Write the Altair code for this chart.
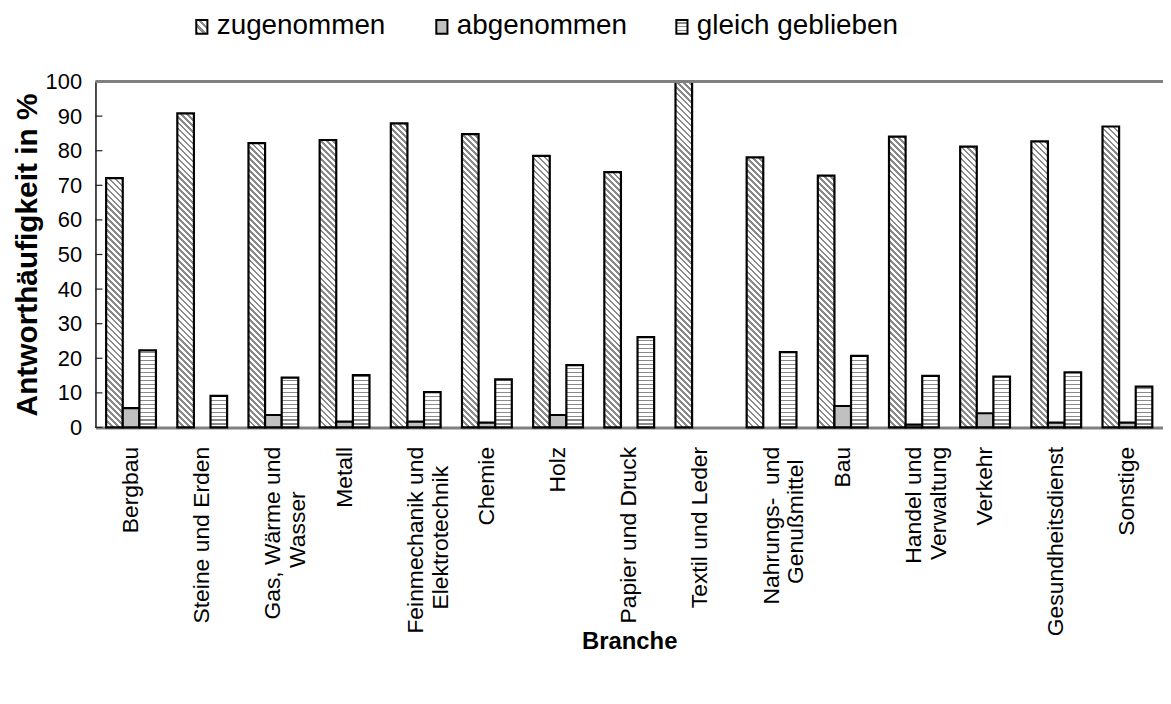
import altair as alt
import pandas as pd

# ---------------- data ----------------
NB = "\u00a0"
ZW = "\u200b"
categories = [
    "Bergbau", "Steine und Erden", "Gas, Wärme und|Wasser" + NB * 7 + ZW, "Metall",
    "Feinmechanik und|Elektrotechnik" + NB * 3 + ZW, "Chemie", "Holz", "Papier und Druck",
    "Textil und Leder", "Nahrungs-" + NB + " und|Genußmittel" + NB * 2 + ZW, "Bau",
    "Handel und|Verwaltung", "Verkehr", "Gesundheitsdienst", "Sonstige",
]
series = ["zugenommen", "abgenommen", "gleich geblieben"]
zugenommen = [72.1, 90.8, 82.2, 83.1, 87.9, 84.8, 78.5, 73.8, 100.0, 78.1, 72.8, 84.1, 81.2, 82.7, 87.0]
abgenommen = [5.6, 0.0, 3.6, 1.7, 1.7, 1.4, 3.6, 0.0, 0.0, 0.0, 6.2, 0.8, 4.1, 1.4, 1.4]
gleich_geblieben = [22.3, 9.1, 14.4, 15.1, 10.2, 13.9, 18.0, 26.1, 0.0, 21.8, 20.7, 14.9, 14.7, 15.9, 11.8]
y_ticks = [0, 10, 20, 30, 40, 50, 60, 70, 80, 90, 100]

# ---------------- layout / style ----------------
W, H = 1074, 348
PI, PO = 0.3, 0.15
FONT = "Liberation Sans"
HATCH = "#8a8a8a"
BG = "#ffffff"
step = W / (len(categories) - PI + 2 * PO)
bar_w = step * (1 - PI) / 3

rows = []
for i, c in enumerate(categories):
    for s, vals in zip(series, [zugenommen, abgenommen, gleich_geblieben]):
        rows.append({"Branche": c, "Serie": s, "Wert": vals[i]})
df = pd.DataFrame(rows)


def stripe_stops(L, period, line, c_line, c_bg):
    stops = []
    pos = 0.0
    while pos < L:
        a = pos / L
        b = min(pos + line, L) / L
        e = min(pos + period, L) / L
        stops += [(a, c_line), (b, c_line), (b, c_bg), (e, c_bg)]
        pos += period
    return [alt.GradientStop(offset=round(o, 5), color=c) for o, c in stops]


def diag_gradient(w, h, period=6.0, line=2.7):
    L = w + h
    k = L / (w * w + h * h)
    return alt.LinearGradient(
        gradient="linear", x1=0, y1=1, x2=round(k * w, 6), y2=round(1 - k * h, 6),
        stops=stripe_stops(L, period, line, HATCH, BG))


def hstripe_gradient(h, period=4.0, line=1.4):
    return alt.LinearGradient(
        gradient="linear", x1=0, y1=1, x2=0, y2=0,
        stops=stripe_stops(h, period, period - line, BG, HATCH))


x_enc = alt.X(
    "Branche:N", sort=categories,
    scale=alt.Scale(domain=categories, paddingInner=PI, paddingOuter=PO),
    axis=alt.Axis(
        title="Branche", labelExpr="split(datum.label, '|')", labelAngle=270,
        labelAlign="right", labelBaseline="middle", labelPadding=19, labelFontSize=23,
        labelLineHeight=25, labelLimit=400, labelOverlap=False, ticks=False,
        domainColor="#808080", domainWidth=3, titleFontSize=24, titleFontWeight="bold",
        titleY=203, labelColor="black", titleColor="black", labelFont=FONT, titleFont=FONT),
)
xo_enc = alt.XOffset("Serie:N", scale=alt.Scale(domain=series, paddingInner=0, paddingOuter=0))
y_enc = alt.Y(
    "Wert:Q", scale=alt.Scale(domain=[0, 100], nice=False),
    axis=alt.Axis(
        title="Antworthäufigkeit in %", values=y_ticks, tickCount=11, ticks=False,
        labelPadding=14, labelOverlap=False, domainColor="#111111", domainWidth=1.5,
        grid=False, labelFontSize=22, titleFontSize=30, titleFontWeight="bold",
        titlePadding=3, labelFont=FONT, titleFont=FONT, labelColor="black",
        titleColor="black", format="d"),
)

base = alt.Chart(df)
bar_layers = []
for i, c in enumerate(categories):
    for s, vals in zip(series, [zugenommen, abgenommen, gleich_geblieben]):
        v = vals[i]
        if v <= 0:
            continue
        h = v / 100.0 * H
        if s == "zugenommen":
            fill = diag_gradient(bar_w, h)
        elif s == "gleich geblieben":
            fill = hstripe_gradient(h)
        else:
            fill = "#c0c0c0"
        bar_layers.append(
            base.transform_filter((alt.datum.Branche == c) & (alt.datum.Serie == s))
            .mark_bar(fill=fill, stroke="black", strokeWidth=2.2)
            .encode(x=x_enc, xOffset=xo_enc, y=y_enc)
        )

tick_layer = alt.Chart(pd.DataFrame({"Wert": y_ticks})).mark_rule(
    color="#222222", strokeWidth=1.2).encode(y=y_enc, x=alt.value(0), x2=alt.value(7))
top_line = alt.Chart(pd.DataFrame({"Wert": [100]})).mark_rule(
    color="#808080", strokeWidth=3).encode(y=y_enc)

main = alt.layer(*bar_layers, tick_layer, top_line)

# ---------------- legend ----------------
leg_df = pd.DataFrame({"Serie": series})
leg_x = alt.X("Serie:N", sort=series,
              scale=alt.Scale(type="point", domain=series, range=[107, 590], padding=0), axis=None)
rect_path = "M-0.8,-1H0.8V1H-0.8Z"
leg_fills = [
    alt.LinearGradient(gradient="linear", x1=0, y1=1, x2=0.8, y2=0,
                       stops=stripe_stops(1.0, 0.33, 0.15, HATCH, BG)),
    "#c0c0c0",
    alt.LinearGradient(gradient="linear", x1=0, y1=1, x2=0, y2=0,
                       stops=stripe_stops(1.0, 0.28, 0.18, BG, HATCH)),
]
leg_layers = []
for s, f in zip(series, leg_fills):
    leg_layers.append(
        alt.Chart(leg_df).transform_filter(alt.datum.Serie == s)
        .mark_point(shape=rect_path, size=196, filled=True, fill=f, stroke="black",
                    strokeWidth=2, opacity=1)
        .encode(x=leg_x, y=alt.value(-55))
    )
leg_text = alt.Chart(leg_df).mark_text(
    align="left", baseline="middle", dx=15, fontSize=28, font=FONT, color="black"
).encode(x=leg_x, y=alt.value(-56), text="Serie:N")
legend = alt.layer(*leg_layers, leg_text)

chart = (
    alt.layer(main, legend)
    .resolve_scale(x="independent")
    .properties(width=W, height=H, background="white",
                padding={"left": 88, "top": 72, "right": 0, "bottom": 235},
                autosize=alt.AutoSizeParams(type="none"))
    .configure_view(stroke="transparent")
    .configure_axisY(labelOverlap=False)
)

chart.save("out.html", embed_options={"renderer": "svg", "actions": False})
